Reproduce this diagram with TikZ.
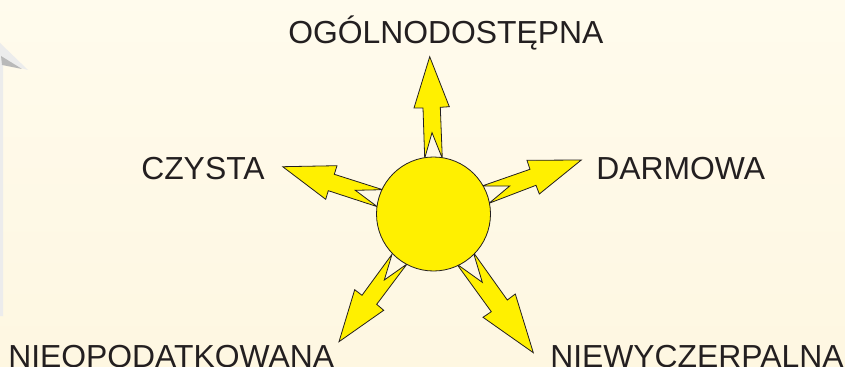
\documentclass[tikz,border=0pt]{standalone}
\usepackage{fontspec}
\setmainfont{Liberation Sans}
\definecolor{sunyellow}{RGB}{255,240,0}
\definecolor{bgtop}{RGB}{255,252,240}
\definecolor{bgbot}{RGB}{254,246,222}
\definecolor{ink}{RGB}{35,31,32}
\tikzset{
  ray/.style={fill=sunyellow,draw=ink,line width=0.6pt,line join=miter},
  label/.style={text=ink,font=\fontsize{23.9}{28}\selectfont,inner sep=0pt,anchor=base west},
}
\begin{document}
\begin{tikzpicture}[x=0.75pt,y=-0.75pt]
\useasboundingbox (0,0) rectangle (845,367);
\clip (0,0) rectangle (845,367);
\shade[shading angle=200,top color=bgtop,bottom color=bgbot] (-100,-100) rectangle (945,467);
% pale shape at left edge
\fill[white!85!gray] (0,43) -- (28,70) -- (3,63) -- (3,316) -- (0,316) -- cycle;
\fill[gray!55] (1,56) -- (22,69) -- (2,65) -- cycle;
% rays
\path[ray] (429.7,56.7) -- (449.3,106.7) -- (440.3,107.3) -- (442.3,158.3) -- (432,132.7) -- (424.7,158.3) -- (423,108) -- (414,108) -- cycle;
\path[ray] (482,186) -- (530,169.3) -- (527,160.3) -- (581.3,160) -- (539.3,194) -- (536,185.3) -- (489,203.3) -- (509.7,186) -- cycle;
\path[ray] (282.7,166.7) -- (337,165.7) -- (334.3,174.3) -- (382.7,189.7) -- (355.3,190.3) -- (377.3,206.7) -- (328.3,190.7) -- (325.7,199.3) -- cycle;
\path[ray] (392,254.3) -- (384.3,280) -- (407,264) -- (376.7,304.3) -- (383.7,310.3) -- (339,341.7) -- (354.7,289.7) -- (362,295.3) -- cycle;
\path[ray] (473.3,252.3) -- (507.3,300) -- (515.3,294) -- (533.3,352.7) -- (483,317.3) -- (491.3,311.7) -- (456.7,264) -- (482.3,282.3) -- cycle;
\node[circle,minimum size=85.5pt,inner sep=0pt,fill=sunyellow,draw=ink,line width=0.6pt] (sun) at (433.5,214) {};
% labels
\node[label] (l1) at (288,44) {OGÓLNODOSTĘPNA};
\node[label] (l2) at (596,179) {DARMOWA};
\node[label] (l3) at (141,180) {CZYSTA};
\node[label] (l4) at (8,367) {NIEOPODATKOWANA};
\node[label] (l5) at (550,367) {NIEWYCZERPALNA};
\end{tikzpicture}
\end{document}
